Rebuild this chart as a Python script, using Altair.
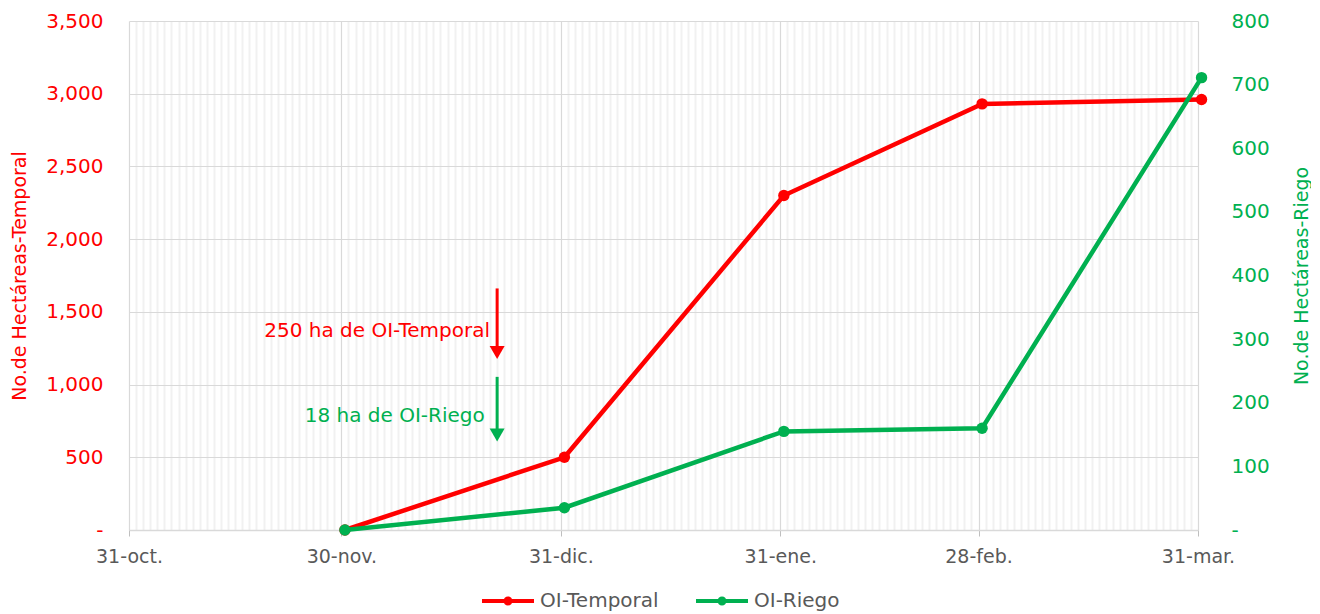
import altair as alt
import pandas as pd

# ---------------- data ----------------
dates = ["2022-11-30T12:00:00Z", "2022-12-31T12:00:00Z", "2023-01-31T12:00:00Z",
         "2023-02-28T12:00:00Z", "2023-03-31T12:00:00Z"]
temporal = [0, 500, 2300, 2930, 2960]
riego = [0, 35, 155, 160, 711]
series = ["OI-Temporal", "OI-Riego"]
colors = ["#FF0000", "#00B050"]

major_dates = ["2022-10-31", "2022-11-30", "2022-12-31", "2023-01-31", "2023-02-28", "2023-03-31"]
major_labels = ["31-oct.", "30-nov.", "31-dic.", "31-ene.", "28-feb.", "31-mar."]
left_ticks = [0, 500, 1000, 1500, 2000, 2500, 3000, 3500]
right_ticks = [0, 100, 200, 300, 400, 500, 600, 700, 800]

ann_text = ["250 ha de OI-Temporal", "18 ha de OI-Riego"]
ann_text_date = ["2022-12-21T00:00:00Z", "2022-12-20T06:00:00Z"]
ann_text_y = [1367, 786]
ann_arrow_date = ["2022-12-22T00:00:00Z", "2022-12-22T00:00:00Z"]
ann_arrow_top = [1661, 1053]
ann_arrow_head = [1220, 653]

# ---------------- helpers ----------------
def ms(d):
    t = pd.Timestamp(d)
    if t.tzinfo is None:
        t = t.tz_localize("UTC")
    return int(t.value // 10**6)

major_ms = [ms(d) for d in major_dates]
all_days = [ms(d) for d in pd.date_range(major_dates[0], major_dates[-1], freq="D")]
ms_list = "[" + ",".join(str(v) for v in major_ms) + "]"
lab_list = "[" + ",".join("'" + s + "'" for s in major_labels) + "]"
is_major = f"indexof({ms_list}, time(datum.value)) >= 0"

df = pd.DataFrame({
    "date": dates * 2,
    "serie": [series[0]] * len(dates) + [series[1]] * len(dates),
    "value": temporal + riego,
})

x_axis = alt.Axis(
    values=all_days,
    labelExpr=f"{is_major} ? {lab_list}[indexof({ms_list}, time(datum.value))] : ''",
    grid=True,
    gridColor={"condition": {"test": is_major, "value": "#D9D9D9"}, "value": "#F1F1F1"},
    gridWidth={"condition": {"test": is_major, "value": 1.2}, "value": 2},
    tickColor={"condition": {"test": is_major, "value": "#BFBFBF"}, "value": "transparent"},
    tickSize=6,
    labelPadding=11,
    labelFontSize=19,
    labelColor="#595959",
    labelOverlap=False,
    labelFlush=False,
    labelBound=False,
    domainColor="#D9D9D9",
    domainWidth=1.5,
    title=None,
)
x_scale = alt.Scale(type="utc", domain=[major_ms[0], major_ms[-1]], nice=False)

def xenc(field="date"):
    return alt.X(f"{field}:T", scale=x_scale, axis=x_axis, title=None)

yl_scale = alt.Scale(domain=[0, 3500], nice=False)
yl_axis = alt.Axis(
    values=left_ticks, grid=True, gridColor="#D9D9D9", gridWidth=1.2, domain=False,
    ticks=False, tickSize=0, labelPadding=26, labelColor="#FF0000", labelFontSize=20,
    labelExpr="datum.value == 0 ? '-\u00a0' : format(datum.value, ',')",
    title="No.de Hectáreas-Temporal", titleColor="#FF0000", titleFontSize=19,
    titleFontWeight="normal", titlePadding=17, minExtent=83, maxExtent=83, orient="left",
)
yr_scale = alt.Scale(domain=[0, 800], nice=False)
yr_axis = alt.Axis(
    values=right_ticks, grid=False, domain=False, ticks=False, tickSize=0,
    labelPadding=33, labelColor="#00B050", labelFontSize=20,
    labelExpr="datum.value == 0 ? '-' : format(datum.value, 'd')",
    title="No.de Hectáreas-Riego", titleColor="#00B050", titleFontSize=19,
    titleFontWeight="normal", titlePadding=23, titleAngle=270, titleBaseline="top",
    minExtent=71, maxExtent=71, orient="right",
)

legend_path = ("M-2.6,-0.2H2.6V0.2H-2.6Z "
               "M-0.45,0A0.45,0.45,0,1,1,0.45,0A0.45,0.45,0,1,1,-0.45,0Z")
legend = alt.Legend(
    orient="none", legendX=369, legendY=570, direction="horizontal", title=None,
    symbolType=legend_path, symbolSize=400, symbolStrokeWidth=0,
    labelFontSize=20, labelColor="#595959",
    labelOffset=22, columnPadding=37,
)
color_scale = alt.Scale(domain=series, range=colors)

# ---------------- left group ----------------
base_t = alt.Chart(df).transform_filter(alt.datum.serie == series[0])
line_t = base_t.mark_line(strokeWidth=4.5, color=colors[0]).encode(
    x=xenc(), y=alt.Y("value:Q", scale=yl_scale, axis=yl_axis),
)
pts_t = base_t.mark_point(filled=True, opacity=1).encode(
    x=xenc(), y=alt.Y("value:Q", scale=yl_scale, axis=yl_axis),
    color=alt.Color("serie:N", scale=color_scale, legend=legend),
)

left_layers = [line_t, pts_t]
for i in range(len(ann_text)):
    col = colors[i]
    tdf = pd.DataFrame({"date": [ann_text_date[i]], "value": [ann_text_y[i]], "txt": [ann_text[i]]})
    adf = pd.DataFrame({"date": [ann_arrow_date[i]], "value": [ann_arrow_top[i]],
                        "head": [ann_arrow_head[i]]})
    left_layers.append(
        alt.Chart(tdf).mark_text(align="right", baseline="middle", fontSize=20, color=col).encode(
            x=xenc(), y=alt.Y("value:Q", scale=yl_scale, axis=yl_axis), text="txt:N")
    )
    left_layers.append(
        alt.Chart(adf).mark_rule(strokeWidth=3, color=col).encode(
            x=xenc(), y=alt.Y("value:Q", scale=yl_scale, axis=yl_axis), y2="head:Q")
    )
    left_layers.append(
        alt.Chart(adf).mark_point(shape="triangle-down", filled=True, size=225, opacity=1,
                                  color=col).encode(
            x=xenc(), y=alt.Y("head:Q", scale=yl_scale, axis=yl_axis))
    )

left = alt.layer(*left_layers)

# ---------------- right group ----------------
base_r = alt.Chart(df).transform_filter(alt.datum.serie == series[1])
line_r = base_r.mark_line(strokeWidth=4.5, color=colors[1]).encode(
    x=xenc(), y=alt.Y("value:Q", scale=yr_scale, axis=yr_axis),
)
pts_r = base_r.mark_point(filled=True, opacity=1).encode(
    x=xenc(), y=alt.Y("value:Q", scale=yr_scale, axis=yr_axis),
    color=alt.Color("serie:N", scale=color_scale, legend=legend),
)
right = alt.layer(line_r, pts_r)

chart = (
    alt.layer(left, right)
    .resolve_scale(y="independent")
    .properties(width=1069, height=509,
                padding={"left": 2, "top": 3, "right": 0, "bottom": 0})
    .configure(font="DejaVu Sans")
    .configure_point(size=130)
    .configure_view(strokeWidth=0)
)

chart.save("out.html", embed_options={"renderer": "svg", "actions": False})
